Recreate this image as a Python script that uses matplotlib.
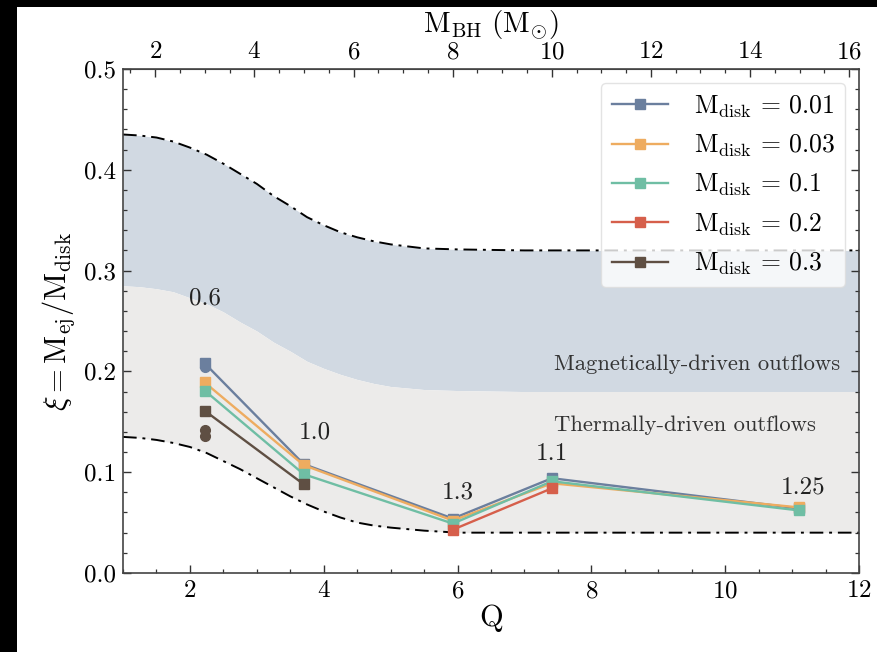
import numpy as np
import matplotlib
matplotlib.use("Agg")
import matplotlib.pyplot as plt
from matplotlib.patches import Rectangle
from matplotlib.ticker import MultipleLocator

plt.rcParams['font.family'] = 'serif'
plt.rcParams['font.serif'] = ['cmr10', 'DejaVu Serif']
plt.rcParams['mathtext.fontset'] = 'cm'
plt.rcParams['axes.formatter.use_mathtext'] = True

# mass ratio of the simulated systems
Q = [2.22, 3.70, 5.93, 7.41, 11.11]
spin_labels = ['0.6', '1.0', '1.3', '1.1', '1.25']
spin_label_pos = [(2.22, 0.272), (3.87, 0.139), (6.0, 0.080), (7.41, 0.118), (11.16, 0.085)]

disk_masses = ['0.01', '0.03', '0.1', '0.2', '0.3']
xi_001 = [0.208, 0.108, 0.054, 0.094, 0.064]
xi_003 = [0.189, 0.107, 0.052, 0.089, 0.065]
xi_01 = [0.181, 0.098, 0.049, 0.091, 0.062]
xi_02 = [np.nan, np.nan, 0.043, 0.084, np.nan]
xi_03 = [0.161, 0.088, np.nan, np.nan, np.nan]
colors = ['#6b7f9e', '#eeac60', '#6fbea4', '#d65f4b', '#5f4f43']

# extra single runs at Q=2.22
extra_q = [2.22, 2.22, 2.22]
extra_xi = [0.204, 0.142, 0.136]
extra_col = ['#6b7f9e', '#5f4f43', '#5f4f43']

# band boundaries
band_q = [1.0, 1.25, 1.5, 1.75, 2.0, 2.25, 2.5, 2.75, 3.0, 3.25, 3.5, 3.75,
          4.0, 4.25, 4.5, 4.75, 5.0, 5.5, 6.0, 7.0, 12.0]
upper = [0.435, 0.434, 0.432, 0.428, 0.422, 0.415, 0.406, 0.396, 0.386, 0.374, 0.364,
         0.353, 0.345, 0.338, 0.333, 0.329, 0.326, 0.322, 0.321, 0.320, 0.320]
middle = [0.285, 0.284, 0.282, 0.279, 0.273, 0.267, 0.259, 0.249, 0.240, 0.229, 0.220,
          0.210, 0.203, 0.197, 0.192, 0.188, 0.185, 0.182, 0.181, 0.180, 0.180]
lower = [0.135, 0.134, 0.132, 0.129, 0.125, 0.119, 0.111, 0.103, 0.094, 0.085, 0.076,
         0.068, 0.061, 0.055, 0.050, 0.047, 0.045, 0.042, 0.040, 0.040, 0.040]

M_NS = 1.35

fig = plt.figure(figsize=(8.77, 6.52), dpi=100)
fig.patch.set_facecolor('black')
bg = Rectangle((17 / 877, 0), 1, (652 - 7) / 652, transform=fig.transFigure,
               facecolor='white', edgecolor='none', zorder=-10)
fig.add_artist(bg)

ax = fig.add_axes([0.1403, 0.1212, 0.9795 - 0.1403, 0.8942 - 0.1212])
ax.set_facecolor('white')

ax.fill_between(band_q, middle, upper, color='#d1d9e2', lw=0, zorder=1)
ax.fill_between(band_q, lower, middle, color='#ecebea', lw=0, zorder=1)
ax.plot(band_q, upper, color='black', ls=(0, (7, 3, 1.5, 3)), lw=1.4, zorder=2)
ax.plot(band_q, lower, color='black', ls=(0, (7, 3, 1.5, 3)), lw=1.4, zorder=2)

series = [xi_001, xi_003, xi_01, xi_02, xi_03]
for vals, m, c in zip(series, disk_masses, colors):
    ax.plot(Q, vals, color=c, marker='s', ms=7, lw=1.7, zorder=4,
            label=r'$\mathrm{M_{disk}}\,=\,%s$' % m)
for q, x, c in zip(extra_q, extra_xi, extra_col):
    ax.plot(q, x, 'o', color=c, ms=7, zorder=3)

for t, (x, y) in zip(spin_labels, spin_label_pos):
    ax.text(x, y, t, ha='center', va='center', fontsize=18, color='#222222', zorder=5)

ax.text(11.72, 0.207, 'Magnetically-driven outflows', ha='right', va='center',
        fontsize=16.3, color='#333333', zorder=5)
ax.text(11.35, 0.147, 'Thermally-driven outflows', ha='right', va='center',
        fontsize=16.3, color='#333333', zorder=5)

ax.set_xlim(1, 12)
ax.set_ylim(0, 0.5)
ax.xaxis.set_major_locator(MultipleLocator(2))
ax.xaxis.set_minor_locator(MultipleLocator(0.5))
ax.yaxis.set_minor_locator(MultipleLocator(0.02))
ax.set_yticks([0.0, 0.1, 0.2, 0.3, 0.4, 0.5])
ax.set_yticklabels(['0.0', '0.1', '0.2', '0.3', '0.4', '0.5'])
ax.tick_params(which='both', direction='in', right=True, labelsize=18, color='#333333')
ax.tick_params(which='major', length=6, width=1, pad=5)
ax.tick_params(which='minor', length=3, width=0.9)
for s in ax.spines.values():
    s.set_color('#444444')
    s.set_linewidth(1.2)

ax.set_xlabel('Q', fontsize=22, labelpad=2)
ax.set_ylabel(r'$\xi = \mathrm{M_{ej}/M_{disk}}$', fontsize=22, labelpad=4)

top = ax.secondary_xaxis('top', functions=(lambda q: q * M_NS, lambda m: m / M_NS))
top.set_xticks([2, 4, 6, 8, 10, 12, 14, 16])
top.xaxis.set_minor_locator(MultipleLocator(0.5))
top.tick_params(which='both', direction='in', labelsize=18, color='#333333')
top.tick_params(which='major', length=6, width=1, pad=4)
top.tick_params(which='minor', length=3, width=0.9)
top.spines['top'].set_color('#444444')
top.set_xlabel(r'$\mathrm{M_{BH}\ (M_{\odot})}$', fontsize=21, labelpad=7)

leg = ax.legend(loc='upper right', fontsize=18.5, frameon=True, fancybox=True,
                framealpha=0.8, edgecolor='#dddddd', handlelength=2.2, handletextpad=1.0,
                borderpad=0.4, labelspacing=0.5, borderaxespad=0,
                bbox_to_anchor=(0.981, 0.972))
leg.set_zorder(6)

fig.savefig('out.png', dpi=100, facecolor=fig.get_facecolor())
